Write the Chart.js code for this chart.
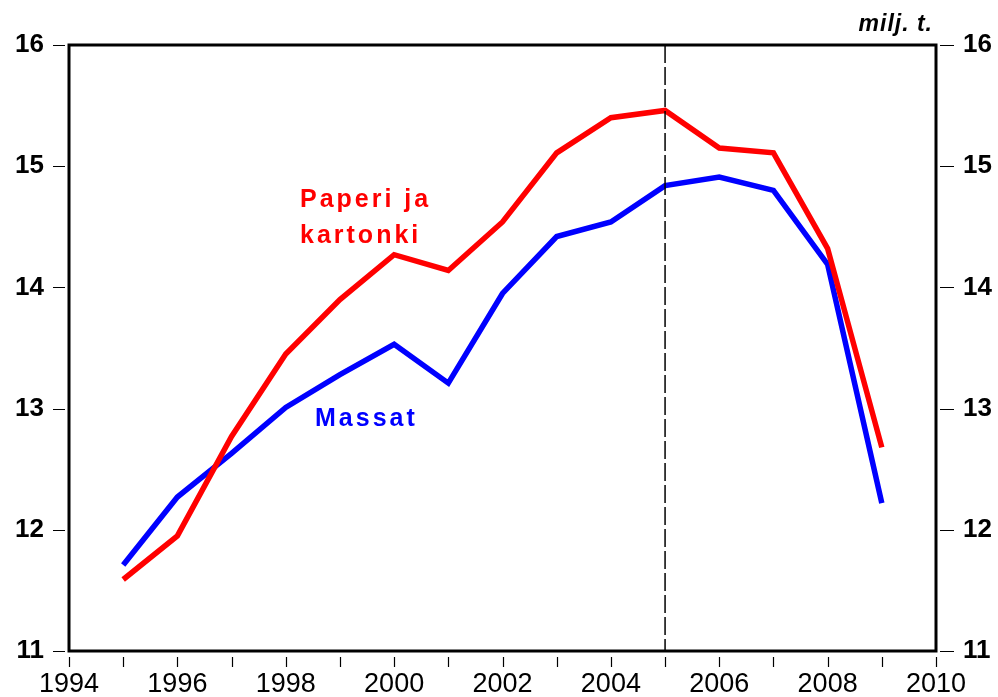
<!DOCTYPE html>
<html>
<head>
<meta charset="utf-8">
<script src="https://cdn.jsdelivr.net/npm/chart.js@4"></script>
<style>
  html, body { margin: 0; padding: 0; background: #fff; }
  canvas { display: block; }
</style>
</head>
<body>
<canvas id="chart" width="998" height="697"></canvas>
<script>
// Data (milj. t.)
const years = [1995, 1996, 1997, 1998, 1999, 2000, 2001, 2002, 2003, 2004, 2005, 2006, 2007, 2008, 2009];
const paperi = [11.59, 11.95, 12.77, 13.45, 13.90, 14.27, 14.14, 14.54, 15.11, 15.40, 15.46, 15.15, 15.11, 14.32, 12.68];
const massat = [11.71, 12.27, 12.63, 13.01, 13.28, 13.53, 13.21, 13.95, 14.42, 14.54, 14.84, 14.91, 14.80, 14.19, 12.22];
const markerYear = 2005;
const unitLabel = 'milj. t.';

const toPoints = vals => vals.map((v, i) => ({ x: years[i], y: v }));

// box, ticks, dashed line and labels
const framePlugin = {
    id: 'frame',
    afterDatasetsDraw(chart) {
        const ctx = chart.ctx;
        const a = chart.chartArea;
        const x = chart.scales.x;
        const xm = x.getPixelForValue(markerYear);
        ctx.save();
        ctx.strokeStyle = '#000';
        ctx.lineWidth = 1.5;
        ctx.setLineDash([18, 4]);
        ctx.beginPath();
        ctx.moveTo(xm, a.top);
        ctx.lineTo(xm, a.bottom);
        ctx.stroke();
        ctx.restore();
    },
    afterDraw(chart) {
        const ctx = chart.ctx;
        const a = chart.chartArea;
        const x = chart.scales.x;
        const y = chart.scales.y;
        ctx.save();
        // frame
        ctx.strokeStyle = '#000';
        ctx.lineWidth = 3;
        ctx.strokeRect(a.left, a.top, a.right - a.left, a.bottom - a.top);

        // x ticks every year
        ctx.lineWidth = 1.2;
        for (let yr = 1994; yr <= 2010; yr++) {
            const px = Math.round(x.getPixelForValue(yr)) + 0.5;
            ctx.beginPath();
            ctx.moveTo(px, a.bottom + 6);
            ctx.lineTo(px, a.bottom + 16);
            ctx.stroke();
        }
        // y ticks both sides
        for (let v = 11; v <= 16; v++) {
            const py = Math.round(y.getPixelForValue(v)) + 0.5;
            ctx.beginPath();
            ctx.moveTo(a.left - 16, py);
            ctx.lineTo(a.left - 4, py);
            ctx.moveTo(a.right + 4, py);
            ctx.lineTo(a.right + 18, py);
            ctx.stroke();
        }

        // unit label
        ctx.fillStyle = '#000';
        ctx.font = 'italic bold 23px "Liberation Sans", Arial, sans-serif';
        ctx.textAlign = 'right';
        ctx.textBaseline = 'alphabetic';
        ctx.letterSpacing = '1px';
        ctx.fillText(unitLabel, 933, 31);

        // series labels
        ctx.textAlign = 'left';
        ctx.font = 'bold 25px "Liberation Sans", Arial, sans-serif';
        ctx.letterSpacing = '3px';
        ctx.fillStyle = '#ff0000';
        ctx.fillText('Paperi ja', 300, 207);
        ctx.fillText('kartonki', 300, 243);
        ctx.fillStyle = '#0000ff';
        ctx.fillText('Massat', 315, 426);
        ctx.restore();
    }
};

new Chart(document.getElementById('chart'), {
    type: 'line',
    data: {
        datasets: [{
            label: 'Paperi ja kartonki',
            data: toPoints(paperi),
            borderColor: '#ff0000',
            borderWidth: 5.5,
            pointRadius: 0,
            tension: 0
        }, {
            label: 'Massat',
            data: toPoints(massat),
            borderColor: '#0000ff',
            borderWidth: 5.5,
            pointRadius: 0,
            tension: 0
        }]
    },
    options: {
        responsive: false,
        animation: false,
        devicePixelRatio: 1,
        layout: { padding: { top: 45, left: 0, right: 0, bottom: 0 } },
        plugins: {
            legend: { display: false },
            tooltip: { enabled: false }
        },
        scales: {
            x: {
                type: 'linear',
                min: 1994,
                max: 2010,
                border: { display: false },
                grid: { display: false, drawTicks: false },
                afterFit: s => { s.height = 46; },
                ticks: {
                    stepSize: 2,
                    autoSkip: false,
                    maxRotation: 0,
                    padding: 17,
                    color: '#000',
                    font: { family: '"Liberation Sans", Arial, sans-serif', size: 27 },
                    callback: v => String(v)
                }
            },
            y: {
                position: 'left',
                min: 11,
                max: 16,
                border: { display: false },
                grid: { display: false, drawTicks: false },
                afterFit: s => { s.width = 69; },
                ticks: {
                    stepSize: 1,
                    padding: 25,
                    color: '#000',
                    font: { family: '"Liberation Sans", Arial, sans-serif', size: 26, weight: 'bold' }
                }
            },
            y2: {
                position: 'right',
                min: 11,
                max: 16,
                border: { display: false },
                grid: { display: false, drawTicks: false },
                afterFit: s => { s.width = 62; },
                ticks: {
                    stepSize: 1,
                    padding: 27,
                    color: '#000',
                    font: { family: '"Liberation Sans", Arial, sans-serif', size: 26, weight: 'bold' }
                }
            }
        }
    },
    plugins: [framePlugin]
});
</script>
</body>
</html>
